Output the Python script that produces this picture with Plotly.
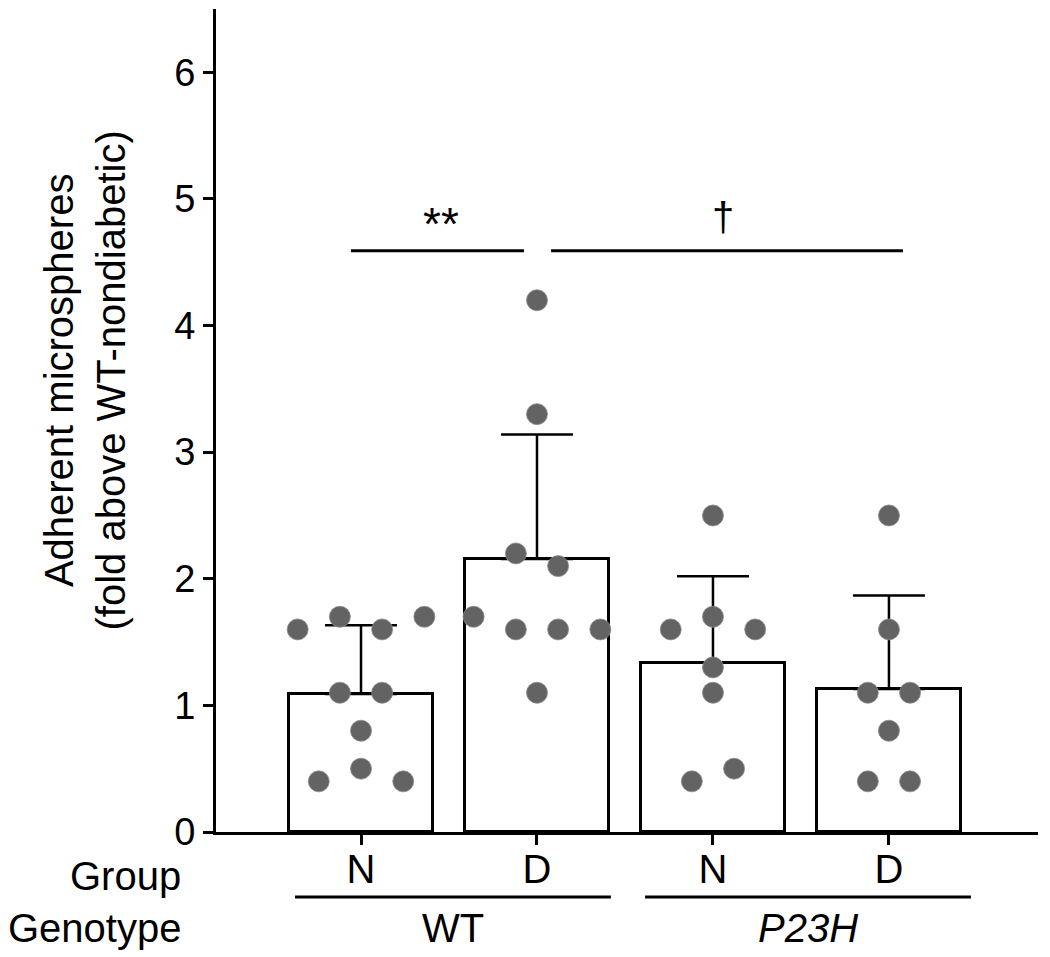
import numpy as np
import plotly.graph_objects as go

# ---- data ----
groups = ["N", "D", "N", "D"]
genotypes = ["WT", "P23H"]
wt_n = [1.6, 1.7, 1.6, 1.7, 1.1, 1.1, 0.8, 0.5, 0.4, 0.4]
wt_d = [4.2, 3.3, 2.2, 2.1, 1.7, 1.6, 1.6, 1.6, 1.1]
p23h_n = [2.5, 1.7, 1.6, 1.6, 1.3, 1.1, 0.4, 0.5]
p23h_d = [2.5, 1.6, 1.1, 1.1, 0.8, 0.4, 0.4]
y_ticks = [0, 1, 2, 3, 4, 5, 6]
sig_labels = ["**", "†"]

# swarm slot for each dot (layout, not data)
slots = [
    [-3, -1, 1, 3, -1, 1, 0, 0, -2, 2],
    [0, 0, -1, 1, -3, -1, 1, 3, 0],
    [0, 0, -2, 2, 0, 0, -1, 1],
    [0, 0, -1, 1, 0, -1, 1],
]
SLOT_W = 0.12

series = [wt_n, wt_d, p23h_n, p23h_d]
xpos = list(range(len(series)))
means = [float(np.mean(v)) for v in series]
sds = [float(np.std(v, ddof=1)) for v in series]

FONT = "Liberation Sans, Arial, sans-serif"

fig = go.Figure()
fig.add_trace(go.Bar(
    x=xpos, y=means, width=0.82,
    marker=dict(color="white", line=dict(color="black", width=3)),
    error_y=dict(type="data", symmetric=False, array=sds, arrayminus=[0] * 4,
                 color="black", thickness=2.5, width=36),
    showlegend=False, hoverinfo="skip",
))
dx, dy = [], []
for i, (vals, sl) in enumerate(zip(series, slots)):
    for v, s in zip(vals, sl):
        dx.append(i + s * SLOT_W)
        dy.append(v)
fig.add_trace(go.Scatter(
    x=dx, y=dy, mode="markers",
    marker=dict(size=21, color="#636363", line=dict(color="#8a8a8a", width=0.8)),
    showlegend=False, hoverinfo="skip", cliponaxis=False,
))

shapes = []
annotations = []
# significance bars
SIG_Y = 4.59
for (x0, x1), lab, xc, yc, sz in zip([(-0.057, 0.926), (1.08, 3.08)], sig_labels,
                                     [0.455, 2.057], [4.80, 4.86], [46, 40]):
    shapes.append(dict(type="line", xref="x", yref="y", x0=x0, x1=x1, y0=SIG_Y, y1=SIG_Y,
                       line=dict(color="black", width=3)))
    annotations.append(dict(x=xc, y=yc, xref="x", yref="y", text=lab, showarrow=False,
                            font=dict(family=FONT, size=sz, color="black"),
                            xanchor="center", yanchor="middle"))

# genotype underlines and labels
for (x0, x1), lab, xc in zip([(-0.375, 1.42), (1.614, 3.466)], genotypes, [0.52, 2.54]):
    shapes.append(dict(type="line", xref="x", yref="paper", x0=x0, x1=x1, y0=-0.079, y1=-0.079,
                       line=dict(color="black", width=3)))
    txt = lab if lab == "WT" else "<i>" + lab + "</i>"
    annotations.append(dict(x=xc, y=-0.117, xref="x", yref="paper", text=txt, showarrow=False,
                            font=dict(family=FONT, size=40, color="black"),
                            xanchor="center", yanchor="middle"))

annotations.append(dict(x=-0.040, y=-0.0535, xref="paper", yref="paper", text="Group",
                        showarrow=False, font=dict(family=FONT, size=40, color="black"),
                        xanchor="right", yanchor="middle"))
annotations.append(dict(x=-0.040, y=-0.117, xref="paper", yref="paper", text="Genotype",
                        showarrow=False, font=dict(family=FONT, size=40, color="black"),
                        xanchor="right", yanchor="middle"))
# y title
annotations.append(dict(x=-0.159, y=0.549, xref="paper", yref="paper",
                        text="Adherent microspheres<br>(fold above WT-nondiabetic)",
                        showarrow=False, textangle=-90,
                        font=dict(family=FONT, size=40, color="black"),
                        xanchor="center", yanchor="middle"))

fig.update_layout(
    width=1042, height=949,
    margin=dict(l=208, r=12, t=1, b=125),
    paper_bgcolor="white", plot_bgcolor="white",
    shapes=shapes, annotations=annotations,
    bargap=0,
    font=dict(family=FONT, color="black"),
)
fig.update_xaxes(
    range=[-0.824, 3.847], tickmode="array", tickvals=xpos, ticktext=groups,
    showline=True, linecolor="black", linewidth=3,
    ticks="outside", ticklen=10, tickwidth=2.5, tickcolor="black",
    tickfont=dict(family=FONT, size=40, color="black"),
    ticklabelstandoff=-10,
    showgrid=False, zeroline=False, fixedrange=True,
)
fig.update_yaxes(
    range=[0, 6.5], tickmode="array", tickvals=y_ticks,
    showline=True, linecolor="black", linewidth=3,
    ticks="outside", ticklen=10, tickwidth=2.5, tickcolor="black",
    tickfont=dict(family=FONT, size=38, color="black"),
    showgrid=False, zeroline=False, fixedrange=True,
)

fig.write_html("out.html")
